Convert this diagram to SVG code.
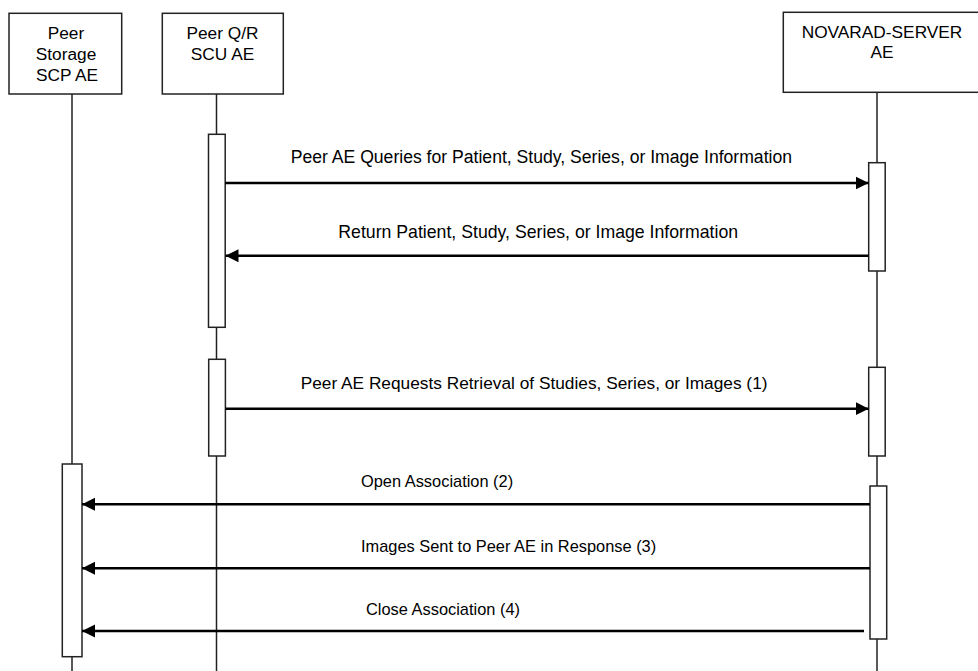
<svg xmlns="http://www.w3.org/2000/svg" width="978" height="671" viewBox="0 0 978 671">
<style>
.box{fill:#fff;stroke:#222;stroke-width:1.5}
.life{stroke:#222;stroke-width:1.5;fill:none}
.act{fill:#fff;stroke:#222;stroke-width:1.5}
.msg{stroke:#000;stroke-width:2.5;fill:none}
text{font-family:"Liberation Sans",Arial,sans-serif;font-size:17.3px;fill:#000}
.c{text-anchor:middle}
.sm{font-size:16.4px}
</style>
<defs>
<marker id="ah" markerWidth="14" markerHeight="14" viewBox="0 0 14 14" refX="13" refY="7" orient="auto" markerUnits="userSpaceOnUse">
<path d="M0,0.5 L13,7 L0,13.5 Z" fill="#000"/>
</marker>
</defs>
<rect width="978" height="671" fill="#fff"/>
<g id="lifelines">
<line class="life" x1="72" y1="94" x2="72" y2="671"/>
<line class="life" x1="216.5" y1="94" x2="216.5" y2="671"/>
<line class="life" x1="877" y1="92" x2="877" y2="671"/>
</g>
<g id="node-storage">
<rect class="box" x="9" y="13.3" width="112.7" height="80.7"/>
<text class="c" x="66" y="39">Peer</text>
<text class="c" x="66" y="60">Storage</text>
<text class="c" x="67" y="80.5">SCP AE</text>
</g>
<g id="node-qr">
<rect class="box" x="162.3" y="13.3" width="121" height="80.7"/>
<text class="c" x="222.5" y="39">Peer Q/R</text>
<text class="c" x="222.5" y="60">SCU AE</text>
</g>
<g id="node-server">
<rect class="box" x="783.3" y="12.3" width="200" height="80"/>
<text class="c" x="882" y="37.7">NOVARAD-SERVER</text>
<text class="c" x="882" y="57.5">AE</text>
</g>
<g id="activations">
<rect class="act" x="208.5" y="134.3" width="16.7" height="193"/>
<rect class="act" x="208.7" y="359.3" width="16.7" height="96.7"/>
<rect class="act" x="868.7" y="162.7" width="16.5" height="108.3"/>
<rect class="act" x="868.7" y="367.3" width="16.5" height="88.7"/>
<rect class="act" x="62.3" y="464" width="19.7" height="192.7"/>
<rect class="act" x="870" y="486" width="16.7" height="153"/>
</g>
<g id="connectors">
<line class="msg" x1="225.2" y1="183" x2="868.7" y2="183" marker-end="url(#ah)"/>
<line class="msg" x1="868.7" y1="255.7" x2="225.5" y2="255.7" marker-end="url(#ah)"/>
<line class="msg" x1="225.4" y1="408.7" x2="868.7" y2="408.7" marker-end="url(#ah)"/>
<line class="msg" x1="870" y1="504.3" x2="82" y2="504.3" marker-end="url(#ah)"/>
<line class="msg" x1="870" y1="568.3" x2="82" y2="568.3" marker-end="url(#ah)"/>
<line class="msg" x1="864" y1="631" x2="82" y2="631" marker-end="url(#ah)"/>
</g>
<g id="labels">
<text x="290.7" y="162.5" style="font-size:17.6px">Peer AE Queries for Patient, Study, Series, or Image Information</text>
<text x="338.3" y="238" style="font-size:17.7px">Return Patient, Study, Series, or Image Information</text>
<text x="300.7" y="389">Peer AE Requests Retrieval of Studies, Series, or Images (1)</text>
<text class="sm" x="361" y="487">Open Association (2)</text>
<text class="sm" x="361" y="552">Images Sent to Peer AE in Response (3)</text>
<text class="sm" x="366" y="615">Close Association (4)</text>
</g>
</svg>
